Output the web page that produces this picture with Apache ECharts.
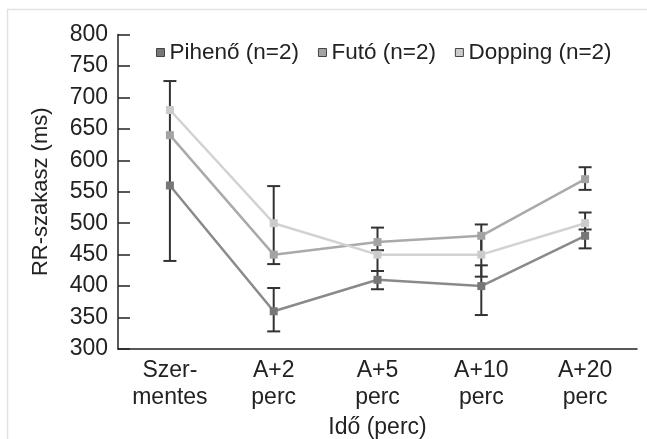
<!DOCTYPE html>
<html>
<head>
<meta charset="utf-8">
<script src="https://cdn.jsdelivr.net/npm/echarts@6/dist/echarts.min.js"></script>
<style>
html,body{margin:0;padding:0;background:#fff;}
#chart{width:647px;height:439px;}
</style>
</head>
<body>
<div id="chart"></div>
<script>
var categories = ["Szer-\nmentes", "A+2\nperc", "A+5\nperc", "A+10\nperc", "A+20\nperc"];
var seriesNames = ["Pihenő (n=2)", "Futó (n=2)", "Dopping (n=2)"];
var pihenValues = [560, 360, 410, 400, 480];
var futoValues = [640, 450, 470, 480, 570];
var dopValues = [680, 500, 450, 450, 500];
var pihenLow = [440, 328, 395, 354, 460];
var pihenHigh = [680, 397, 424, 433, 500];
var futoLow = [640, 435, 450, 450, 553];
var futoHigh = [640, 450, 493, 498, 589];
var dopLow = [680, 450, 424, 415, 490];
var dopHigh = [726, 559, 457, 480, 517];
var yMin = 300, yMax = 800, yStep = 50;
var xTitle = "Idő (perc)";
var yTitle = "RR-szakasz (ms)";

var FONT = "Liberation Sans";
var markerColors = ["#777777", "#a3a3a3", "#cbcbcb"];
var lineColors = ["#8a8a8a", "#aaaaaa", "#d2d2d2"];
var allValues = [pihenValues, futoValues, dopValues];

function isMarkerValue(i, v) {
  for (var s = 0; s < allValues.length; s++) {
    if (Math.abs(allValues[s][i] - v) < 2) return true;
  }
  return false;
}

function errData(low, high) {
  return low.map(function (l, i) { return [i, l, high[i]]; });
}

function renderErr(params, api) {
  var i = api.value(0);
  var lo = api.value(1), hi = api.value(2);
  if (lo === hi) return null;
  var pLo = api.coord([i, lo]);
  var pHi = api.coord([i, hi]);
  var hw = 6.5;
  var st = { stroke: "#333333", lineWidth: 2 };
  var children = [{
    type: "line",
    shape: { x1: pLo[0], y1: pLo[1], x2: pHi[0], y2: pHi[1] },
    style: st
  }];
  if (!isMarkerValue(i, lo)) {
    children.push({ type: "line", shape: { x1: pLo[0] - hw, y1: pLo[1], x2: pLo[0] + hw, y2: pLo[1] }, style: st });
  }
  if (!isMarkerValue(i, hi)) {
    children.push({ type: "line", shape: { x1: pHi[0] - hw, y1: pHi[1], x2: pHi[0] + hw, y2: pHi[1] }, style: st });
  }
  return { type: "group", children: children };
}

function lineSeries(name, values, k) {
  return {
    name: name,
    type: "line",
    data: values,
    symbol: "rect",
    symbolSize: 8,
    z: 5,
    itemStyle: { color: markerColors[k] },
    lineStyle: { color: lineColors[k], width: 2.5 },
    emphasis: { disabled: true }
  };
}

function errSeries(low, high) {
  return {
    type: "custom",
    renderItem: renderErr,
    data: errData(low, high),
    z: 3,
    silent: true
  };
}

var chart = echarts.init(document.getElementById("chart"), null, { renderer: "canvas" });
chart.setOption({
  animation: false,
  backgroundColor: "#ffffff",
  textStyle: { fontFamily: FONT },
  graphic: [{
    type: "rect",
    shape: { x: 7.5, y: 9.5, width: 800, height: 600 },
    style: { fill: "none", stroke: "#e2e2e2", lineWidth: 1.5 },
    silent: true,
    z: -10
  }],
  legend: {
    left: 156,
    top: 41,
    padding: 0,
    icon: "rect",
    itemWidth: 8,
    itemHeight: 8,
    itemGap: 19,
    textStyle: { fontFamily: FONT, fontSize: 22.5, color: "#222222", padding: [0, 0, 0, 0] },
    data: seriesNames.map(function (n, k) {
      return { name: n, itemStyle: { color: markerColors[k], borderColor: "#444444", borderWidth: 1 } };
    })
  },
  grid: { left: 118, right: 10, top: 34.5, bottom: 90, containLabel: false, outerBoundsMode: "none" },
  xAxis: {
    type: "category",
    data: categories,
    boundaryGap: true,
    name: xTitle,
    nameLocation: "middle",
    nameGap: 65,
    nameTextStyle: { fontFamily: FONT, fontSize: 23, color: "#222222" },
    axisLine: { lineStyle: { color: "#222222", width: 1.5 } },
    axisTick: { inside: true, length: 5, lineStyle: { color: "#222222", width: 1.5 } },
    axisLabel: { fontFamily: FONT, fontSize: 23, color: "#222222", margin: 8, lineHeight: 27, interval: 0 },
    splitLine: { show: false }
  },
  yAxis: {
    type: "value",
    min: yMin,
    max: yMax,
    interval: yStep,
    name: yTitle,
    nameLocation: "middle",
    nameGap: 66,
    nameTextStyle: { fontFamily: FONT, fontSize: 22, color: "#222222" },
    axisLine: { show: true, lineStyle: { color: "#222222", width: 1.5 } },
    axisTick: { show: true, inside: true, length: 12, lineStyle: { color: "#222222", width: 1.5 } },
    axisLabel: { fontFamily: FONT, fontSize: 23, color: "#222222", margin: 10 },
    splitLine: { show: false }
  },
  series: [
    errSeries(pihenLow, pihenHigh),
    errSeries(futoLow, futoHigh),
    errSeries(dopLow, dopHigh),
    lineSeries(seriesNames[0], pihenValues, 0),
    lineSeries(seriesNames[1], futoValues, 1),
    lineSeries(seriesNames[2], dopValues, 2)
  ]
});
</script>
</body>
</html>
